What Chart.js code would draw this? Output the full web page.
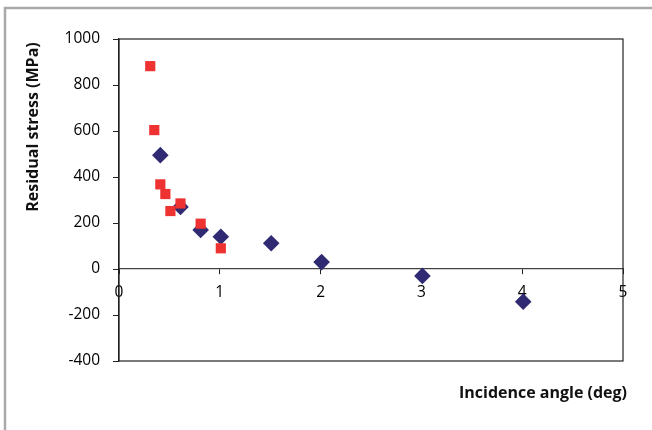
<!DOCTYPE html>
<html>
<head>
<meta charset="utf-8">
<script src="https://cdn.jsdelivr.net/npm/chart.js@4"></script>
<style>
  html, body { margin: 0; padding: 0; background: #fff; }
  #wrap { width: 652px; height: 430px; position: relative; }
</style>
</head>
<body>
<div id="wrap"><canvas id="stressChart" width="652" height="430"></canvas></div>
<script>
// incidence angle (deg) vs residual stress (MPa)
const squareAngles = [0.31, 0.35, 0.41, 0.46, 0.51, 0.61, 0.81, 1.01];
const squareStress = [882, 604, 368, 326, 252, 285, 197, 90];
const diamondAngles = [0.41, 0.61, 0.81, 1.01, 1.51, 2.01, 3.01, 4.01];
const diamondStress = [495, 270, 170, 140, 112, 30, -30, -142];
const yTicks = [-400, -200, 0, 200, 400, 600, 800, 1000];
const xTicks = [0, 1, 2, 3, 4, 5];

const FONT = '"Open Sans", "DejaVu Sans", sans-serif';

const toPoints = (xs, ys) => xs.map((x, i) => ({ x, y: ys[i] }));

// gray frame, plot box and axis titles
const decor = {
  id: 'decor',
  beforeDraw(chart) {
    const ctx = chart.ctx;
    ctx.save();
    ctx.fillStyle = '#fff';
    ctx.fillRect(0, 0, chart.width, chart.height);
    ctx.strokeStyle = '#a9a9a9';
    ctx.lineWidth = 2.5;
    ctx.beginPath();
    ctx.moveTo(5, chart.height);
    ctx.lineTo(5, 8);
    ctx.lineTo(chart.width, 8);
    ctx.stroke();
    ctx.restore();
  },
  afterDraw(chart) {
    const { ctx, chartArea: a } = chart;
    ctx.save();
    ctx.strokeStyle = '#222';
    ctx.lineWidth = 1.2;
    ctx.strokeRect(a.left, a.top, a.right - a.left, a.bottom - a.top);

    ctx.fillStyle = '#111';
    ctx.font = 'bold 16px ' + FONT;
    ctx.textAlign = 'right';
    ctx.textBaseline = 'middle';
    ctx.fillText('Incidence angle (deg)', 627, 393);

    ctx.translate(33, 127);
    ctx.rotate(-Math.PI / 2);
    ctx.textAlign = 'center';
    ctx.fillText('Residual stress (MPa)', 0, 0);
    ctx.restore();
  }
};

new Chart(document.getElementById('stressChart'), {
  type: 'scatter',
  data: {
    datasets: [
      {
        label: 'squares',
        data: toPoints(squareAngles, squareStress),
        pointStyle: 'rect',
        pointRadius: 7.2,
        pointHoverRadius: 7.2,
        backgroundColor: '#ee3232',
        borderColor: '#ee3232',
        borderWidth: 0
      },
      {
        label: 'diamonds',
        data: toPoints(diamondAngles, diamondStress),
        pointStyle: 'rectRot',
        pointRadius: 8.3,
        pointHoverRadius: 8.3,
        backgroundColor: '#2f2a72',
        borderColor: '#2f2a72',
        borderWidth: 0
      }
    ]
  },
  options: {
    responsive: false,
    animation: false,
    layout: { padding: { left: 0, top: 39, right: 29, bottom: 69 } },
    plugins: {
      legend: { display: false },
      tooltip: { enabled: false }
    },
    scales: {
      x: {
        type: 'linear',
        position: { y: 0 },
        min: 0,
        max: 5,
        afterBuildTicks: (scale) => { scale.ticks = xTicks.map(v => ({ value: v })); },
        ticks: {
          color: '#000',
          font: { family: FONT, size: 15.5 },
          padding: 9,
          maxRotation: 0,
          callback: (v) => String(v)
        },
        grid: { drawOnChartArea: false, color: '#222', tickLength: 5 },
        border: { color: '#444', width: 1.2 }
      },
      y: {
        type: 'linear',
        min: -400,
        max: 1000,
        afterBuildTicks: (scale) => { scale.ticks = yTicks.map(v => ({ value: v })); },
        afterFit: (scale) => { scale.width = 119; },
        ticks: {
          color: '#000',
          font: { family: FONT, size: 15.5 },
          padding: 13,
          callback: (v) => String(v)
        },
        grid: { drawOnChartArea: false, color: '#222', tickLength: 6 },
        border: { color: '#222', width: 1.2 }
      }
    }
  },
  plugins: [decor]
});
</script>
</body>
</html>
